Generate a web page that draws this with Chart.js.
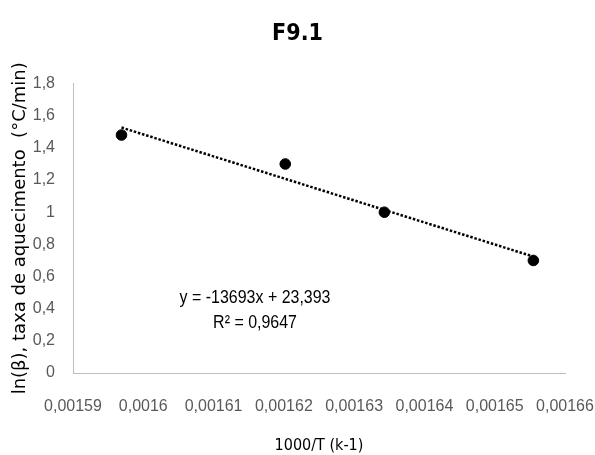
<!DOCTYPE html>
<html>
<head>
<meta charset="utf-8">
<script src="https://cdn.jsdelivr.net/npm/chart.js@4/dist/chart.umd.min.js"></script>
<style>
  html, body { margin: 0; padding: 0; background: #ffffff; }
  #wrap { width: 595px; height: 455px; position: relative; }
</style>
</head>
<body>
<div id="wrap"><canvas id="c" width="595" height="455"></canvas></div>
<script>
// ---- data ----
const chartTitle = "F9.1";
const xValues = [0.0015969, 0.0016202, 0.0016343, 0.0016555];   // 1000/T (k-1)
const yValues = [1.48, 1.30, 1.00, 0.70];                       // ln(β)
const trendSlope = -13693;
const trendIntercept = 23.393;
const trendLabel = ["y = -13693x + 23,393", "R² = 0,9647"];
const xTickValues = [0.00159, 0.0016, 0.00161, 0.00162, 0.00163, 0.00164, 0.00165, 0.00166];
const yTickValues = [0, 0.2, 0.4, 0.6, 0.8, 1, 1.2, 1.4, 1.6, 1.8];
const xAxisTitle = "1000/T (k-1)";
const yAxisTitle = "ln(β), taxa de aquecimento  (°C/min)";
const labelAnchor = { x: 0.0016159, y: 0.308 };

const points = xValues.map((x, i) => ({ x: x, y: yValues[i] }));
const xFirst = xValues[0], xLast = xValues[xValues.length - 1];
const trendPoints = [
  { x: xFirst, y: trendSlope * xFirst + trendIntercept },
  { x: xLast,  y: trendSlope * xLast + trendIntercept }
];

function fmt(v) {
  return String(+v.toPrecision(6)).replace('.', ',');
}

const eqPlugin = {
  id: 'eqLabel',
  afterDatasetsDraw(chart) {
    const ctx = chart.ctx;
    const xs = chart.scales.x, ys = chart.scales.y;
    const cx = xs.getPixelForValue(labelAnchor.x);
    const cy = ys.getPixelForValue(labelAnchor.y);
    ctx.save();
    ctx.fillStyle = '#000000';
    ctx.font = '19px "Liberation Sans", sans-serif';
    ctx.textAlign = 'center';
    ctx.textBaseline = 'middle';
    ctx.translate(cx, cy);
    ctx.scale(0.84, 1);
    ctx.fillText(trendLabel[0], 0, -26);
    ctx.fillText(trendLabel[1], 0, -1);
    ctx.restore();
  }
};

new Chart(document.getElementById('c'), {
  type: 'scatter',
  data: {
    datasets: [
      {
        label: 'trend',
        type: 'line',
        data: trendPoints,
        borderColor: '#000000',
        borderWidth: 2.5,
        borderDash: [2.5, 1.8],
        pointRadius: 0,
        fill: false,
        order: 2
      },
      {
        label: 'data',
        data: points,
        backgroundColor: '#000000',
        borderColor: '#000000',
        pointRadius: 5.3,
        pointHoverRadius: 5.3,
        order: 1
      }
    ]
  },
  options: {
    responsive: false,
    animation: false,
    devicePixelRatio: 1,
    layout: { padding: { left: 0, right: 0, top: 0, bottom: 0 } },
    plugins: {
      legend: { display: false },
      tooltip: { enabled: false },
      title: {
        display: true,
        text: chartTitle,
        color: '#000000',
        font: { family: '"DejaVu Sans Condensed", "Liberation Sans", sans-serif', size: 23, weight: 'bold', lineHeight: 1.2 },
        padding: { top: 20, bottom: 36 }
      }
    },
    scales: {
      x: {
        type: 'linear',
        min: xTickValues[0],
        max: xTickValues[xTickValues.length - 1],
        afterBuildTicks(scale) { scale.ticks = xTickValues.map(v => ({ value: v })); },
        afterFit(scale) { scale.height = 82; scale.paddingRight = 30; },
        grid: { display: false, drawTicks: false },
        border: { display: true, color: '#bfbfbf', width: 1 },
        ticks: {
          color: '#595959',
          padding: 24,
          maxRotation: 0,
          autoSkip: false,
          font: { family: '"Liberation Sans", sans-serif', size: 16 },
          callback: (v) => fmt(v)
        },
        title: {
          display: true,
          text: xAxisTitle,
          color: '#000000',
          font: { family: '"DejaVu Sans Condensed", "Liberation Sans", sans-serif', size: 16 },
          padding: { top: 4, bottom: 0 }
        }
      },
      y: {
        type: 'linear',
        min: 0,
        max: 1.8,
        afterBuildTicks(scale) { scale.ticks = yTickValues.map(v => ({ value: v })); },
        afterFit(scale) { scale.width = 73; },
        grid: { display: false, drawTicks: false },
        border: { display: true, color: '#bfbfbf', width: 1 },
        ticks: {
          color: '#595959',
          padding: 18,
          autoSkip: false,
          font: { family: '"Liberation Sans", sans-serif', size: 16 },
          callback: (v) => fmt(v)
        },
        title: {
          display: true,
          text: yAxisTitle,
          color: '#000000',
          font: { family: '"DejaVu Sans", sans-serif', size: 18 },
          padding: { top: 10, bottom: 0 }
        }
      }
    }
  },
  plugins: [eqPlugin]
});
</script>
</body>
</html>
